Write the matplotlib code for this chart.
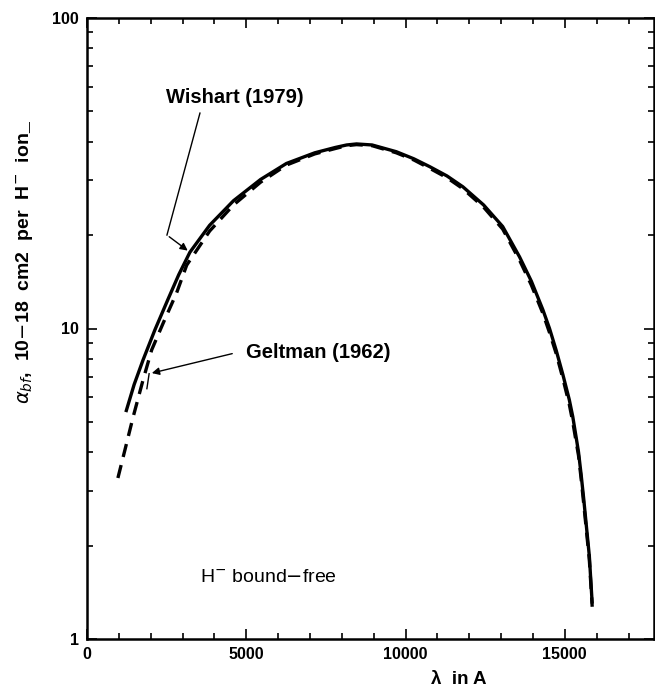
import numpy as np
import matplotlib
matplotlib.use('Agg')
import matplotlib.pyplot as plt
from matplotlib.ticker import FixedLocator, NullFormatter

plt.rcParams['font.family'] = ['Liberation Sans', 'DejaVu Sans']

# Wishart (1979), curva continua (lambda em Angstrom, sigma em 1e-18 cm2)
wishart_lam = [1220, 1480, 1760, 2130, 2540, 2880, 3230, 3850, 4600, 5450, 6260, 7150,
               7800, 8150, 8460, 8950, 9710, 10260, 10760, 11300, 11800, 12450, 13050,
               13580, 13950, 14310, 14520, 14730, 14940, 15140, 15250, 15350, 15430,
               15510, 15590, 15670, 15770, 15860]
wishart_sig = [5.38, 6.6, 7.92, 9.89, 12.4, 14.9, 17.6, 21.5, 25.8, 30.2, 34.0, 36.8,
               38.3, 39.0, 39.3, 39.0, 37.1, 35.2, 33.2, 31.0, 28.6, 25.0, 21.3,
               17.0, 14.2, 11.5, 10.0, 8.5, 7.1, 5.9, 5.2, 4.5, 4.0,
               3.4, 2.85, 2.35, 1.85, 1.3]

# Geltman (1962), curva tracejada
geltman_lam = [970, 1190, 1440, 1760, 2030, 2390, 2810, 3130, 3850, 4600, 5450,
               6260, 7150, 7800, 8150, 8460, 8950, 9710, 10260, 10760, 11300, 11800,
               12450, 13050, 13580, 13950, 14310, 14520, 14730, 14940, 15140, 15250,
               15350, 15430, 15510, 15590, 15670, 15770, 15860]
geltman_sig = [3.3, 4.06, 5.15, 6.83, 8.53, 10.4, 13.0, 16.0, 20.6, 25.0, 29.6,
               33.6, 36.5, 38.0, 38.8, 39.1, 38.8, 36.8, 34.9, 32.8, 30.6, 28.2,
               24.6, 20.9, 16.6, 13.8, 11.2, 9.7, 8.3, 6.9, 5.7, 5.0,
               4.35, 3.9, 3.3, 2.75, 2.28, 1.8, 1.27]

fig = plt.figure(figsize=(6.55, 6.92), dpi=100)
ax = fig.add_axes([87/655, 53/692, (654-87)/655, (639-18)/692])

ax.plot(wishart_lam, wishart_sig, color='black', lw=2.4, solid_capstyle='butt',
        solid_joinstyle='round')
ax.plot(geltman_lam, geltman_sig, color='black', lw=2.4, dashes=(4, 2.5))

ax.set_yscale('log')
ax.set_xlim(0, 17800)
ax.set_ylim(1, 100)

# ticks para dentro nos quatro lados
ax.xaxis.set_major_locator(FixedLocator([0, 5000, 10000, 15000]))
ax.xaxis.set_minor_locator(FixedLocator(np.arange(0, 18000, 1000)))
ax.set_yticks([1, 10, 100])
ax.set_yticklabels(['1', '10', '100'])
ax.yaxis.set_minor_formatter(NullFormatter())
ax.tick_params(which='both', direction='in', top=True, right=True, width=1.2)
ax.tick_params(which='major', length=7, labelsize=11.5, pad=6)
ax.tick_params(which='minor', length=4)
for s in ax.spines.values():
    s.set_linewidth(1.8)
for lab in ax.get_xticklabels() + ax.get_yticklabels():
    lab.set_fontweight('bold')

ax.set_xlabel('λ  in A', fontsize=13.5, fontweight='bold')
ax.xaxis.set_label_coords(0.655, -0.052)
ax.set_ylabel(r'$\alpha_{bf}$,  10$-$18  cm2  per  H$^{-}$  ion_', fontsize=14,
              fontweight='bold')
ax.yaxis.set_label_coords(-0.092, 0.607)

# anotacoes com setas
ax.text(4644, 55.5, 'Wishart (1979)', fontsize=14.5, fontweight='bold', ha='center', va='center')
ax.plot([3546, 2510], [49.4, 20.0], color='black', lw=1.0)
ax.annotate('', xy=(3232, 17.6), xytext=(2510, 20.0),
            arrowprops=dict(arrowstyle='-|>', color='black', lw=1.0, mutation_scale=11))

ax.text(4980, 8.34, 'Geltman (1962)', fontsize=14.5, fontweight='bold', ha='left', va='center')
ax.annotate('', xy=(1950, 7.15), xytext=(4644, 8.34),
            arrowprops=dict(arrowstyle='-|>', color='black', lw=1.0, mutation_scale=11))
ax.plot([1950, 1880], [7.15, 6.4], color='black', lw=1.0)

ax.text(3550, 1.58, 'H$^{-}$ bound$-$free', fontsize=14, ha='left', va='center')

fig.savefig('out.png', dpi=100)
